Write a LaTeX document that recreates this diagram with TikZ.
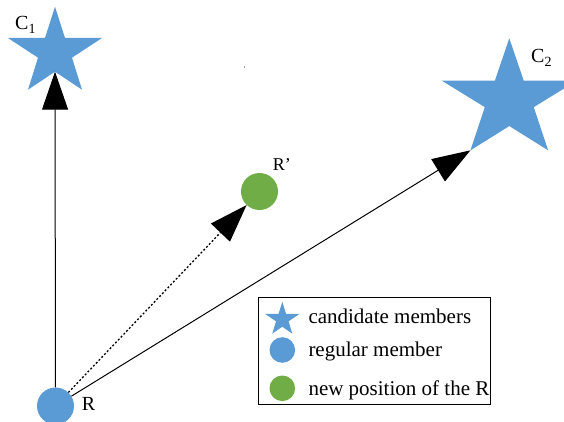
\documentclass[tikz,border=0pt]{standalone}
\usepackage{fontspec}
\setmainfont{Liberation Serif}
\usetikzlibrary{arrows.meta}
\definecolor{memberblue}{HTML}{5B9BD5}
\definecolor{movegreen}{HTML}{70AD47}
\tikzset{
  starshape/.pic={
    \fill[memberblue] (0,0) -- (10,31.3) -- (47,31.3) -- (17,51) -- (27,83)
      -- (0,65) -- (-27,83) -- (-17,51) -- (-47,31.3) -- (-10,31.3) -- cycle;
    \coordinate (-in) at (0,65);
    \coordinate (-leg) at (-27,83);
  },
  dot/.style={circle, fill=#1, draw=none, minimum size=37pt, inner sep=0pt},
  legenddot/.style={circle, fill=#1, draw=none, minimum size=25.6pt, inner sep=0pt},
  bigtip/.style={-{Triangle[length=38pt,width=26pt]}},
  link/.style={line width=1pt, black, bigtip},
  label/.style={inner sep=0pt, anchor=base west, font=\fontsize{20}{24}\selectfont},
  legendtext/.style={inner sep=0pt, anchor=base west, font=\fontsize{21}{25}\selectfont},
}
\begin{document}
\begin{tikzpicture}[x=1pt, y=-1pt]
  \useasboundingbox (0,0) rectangle (564,422);
  \clip (0,0) rectangle (564,422);

  % candidate members
  \pic (C1) at (55,6.7) {starshape};
  \pic[xscale=1.44, yscale=1.35] (C2) at (509.3,38.3) {starshape};
  \node[label] (c1lab) at (15,30) {C\textsubscript{1}};
  \node[label] (c2lab) at (531,63) {C\textsubscript{2}};

  % regular member and its new position
  \node[dot=memberblue] (R) at (55.5,406) {};
  \node[dot=movegreen] (Rp) at (259.5,191.5) {};
  \node[label] (rlab) at (81.7,410) {R};
  \node[label, font=\fontsize{18}{21}\selectfont] (rplab) at (272.7,170.7) {R’};

  % stray mark
  \fill[gray!70] (243.5,66) rectangle (245,68.5);

  % moves
  \draw[link] (R) -- (C1-in);
  \draw[link] (R) -- (C2-leg);
  \draw[link, line width=1.3pt, dash pattern=on 2pt off 2pt] (R) -- (Rp);

  % legend
  \node[draw=black, line width=0.8pt, minimum width=232pt, minimum height=107pt,
        anchor=north west, inner sep=0pt] (legend) at (258.3,297.3) {};
  \pic[xscale=0.37, yscale=0.385] (Lstar) at (282.3,301.7) {starshape};
  \node[legenddot=memberblue] (Lblue) at (282.3,350) {};
  \node[legenddot=movegreen] (Lgreen) at (282.3,388.3) {};
  \node[legendtext] (t1) at (308.3,323.3) {candidate members};
  \node[legendtext] (t2) at (308.3,356) {regular member};
  \node[legendtext] (t3) at (308.3,395) {new position of the R};
\end{tikzpicture}
\end{document}
